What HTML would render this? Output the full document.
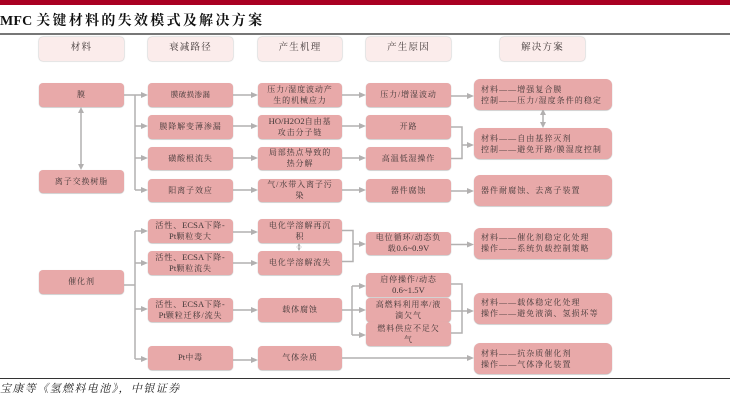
<!DOCTYPE html>
<html lang="zh"><head><meta charset="utf-8"><style>
html,body{margin:0;padding:0;background:#fff;overflow:hidden}
body{position:relative;width:730px;height:404px;overflow:hidden;font-family:"Liberation Serif","Noto Serif CJK SC",serif;color:#3f3636}
svg{position:absolute;left:0;top:0}
.b{position:absolute;box-sizing:border-box;background:#e8a9a9;border-radius:4px;box-shadow:0 .5px 1px #aaa;display:flex;align-items:center;justify-content:center;text-align:center;font-size:8px;line-height:11px;letter-spacing:.9px;white-space:nowrap}
.h{background:#fbeceb;font-size:9.5px;letter-spacing:1.2px;box-shadow:0 0 1.5px #999}
.c1{left:39px;width:85px}.c2{left:148px;width:85px}.c3{left:258px;width:84px}.c4{left:366px;width:85px}
.c5{left:474px;width:138px;height:31px;justify-content:flex-start;text-align:left;padding-left:7px;border-radius:6px;letter-spacing:1.05px}
.l{letter-spacing:.1px;font-size:8.5px}
.clip{position:absolute;left:0;overflow:hidden;white-space:nowrap}
</style></head><body>
<div style="position:absolute;left:0;top:0;width:730px;height:5px;background:#a90022"></div>
<div style="position:absolute;left:0;top:33px;width:730px;height:1.5px;background:#777"></div>
<div style="position:absolute;left:0;top:378px;width:730px;height:1px;background:#333"></div>
<div class="clip" style="top:12px;width:280px;height:20px;font-size:14px;line-height:20px;font-weight:700;letter-spacing:2.3px;color:#111"><span style="letter-spacing:.2px">MFC </span>关键材料的失效模式及解决方案</div>
<div class="clip" style="top:380px;width:200px;height:18px;font-size:11px;line-height:18px;font-style:italic;letter-spacing:1.4px;color:#222">宝康等《氢燃料电池》，中银证券</div>
<svg width="730" height="404" viewBox="0 0 730 404" fill="none" stroke="#b2b0b0" stroke-width="1.500">
<path d="M124 95H141M135 95V190M135 126H141M135 158H141M135 190H141M233 95H251M233 126H251M233 158H251M233 190H251M342 95H359M342 126H359M342 158H359M342 190H359"/>
<path d="M451 96H467M451 127H462V158.500H451M462 145H467M451 191H467"/>
<path d="M81 112V165M543 114V123M124 285H135M135 231V359M135 231H141M135 263H141M135 309H141M135 359H141"/>
<path d="M233 232H251M233 263H251M233 310H251M233 360H251M342 230.500H353V261.500H342M353 244H359M299 244V250"/>
<path d="M342 310H352M352 286V335M352 286H359M352 310H359M352 335H359M451 244.500H467M451 284H462V333H451M451 311H467M342 358H467"/>
<g fill="#b2b0b0" stroke="none">
<path d="M148 95l-7-3v6zM148 126l-7-3v6zM148 158l-7-3v6zM148 190l-7-3v6zM258 95l-7-3v6zM258 126l-7-3v6zM258 158l-7-3v6zM258 190l-7-3v6zM366 95l-7-3v6zM366 126l-7-3v6zM366 158l-7-3v6zM366 190l-7-3v6zM474 96l-7-3v6zM474 145l-7-3v6zM474 191l-7-3v6z"/>
<path d="M148 231l-7-3v6zM148 263l-7-3v6zM148 309l-7-3v6zM148 359l-7-3v6zM258 232l-7-3v6zM258 263l-7-3v6zM258 310l-7-3v6zM258 360l-7-3v6zM366 244l-7-3v6zM366 286l-7-3v6zM366 310l-7-3v6zM366 335l-7-3v6zM474 244.500l-7-3v6zM474 311l-7-3v6zM474 358l-7-3v6z"/>
<path d="M81 107l-3 6h6zM81 170l-3-6h6zM543 109l-3 6h6zM543 128l-3-6h6zM299 243l-2.500 5h5zM299 251l-2.500-5h5z"/>
</g>
</svg>

<div class="b h c1" style="top:37px;height:23.500px">材料</div>
<div class="b h c2" style="top:37px;height:23.500px">衰减路径</div>
<div class="b h c3" style="top:37px;height:23.500px">产生机理</div>
<div class="b h c4" style="top:37px;height:23.500px">产生原因</div>
<div class="b h" style="left:500px;width:85px;top:37px;height:23.500px">解决方案</div>

<div class="b c1" style="top:83px;height:23.500px">膜</div>
<div class="b c1" style="top:169.500px;height:23.500px">离子交换树脂</div>
<div class="b c1" style="top:270px;height:23.500px">催化剂</div>

<div class="b c2" style="top:83px;height:23.500px;letter-spacing:.4px;font-size:7.500px">膜破损渗漏</div>
<div class="b c2" style="top:115px;height:23.500px">膜降解变薄渗漏</div>
<div class="b c2" style="top:146.500px;height:23.500px">磺酸根流失</div>
<div class="b c2" style="top:178.500px;height:23.500px">阳离子效应</div>
<div class="b c2" style="top:219px;height:24px"><span>活性、<span class="l">ECSA</span>下降-<br><span class="l">Pt</span>颗粒变大</span></div>
<div class="b c2" style="top:251px;height:23.500px"><span>活性、<span class="l">ECSA</span>下降-<br><span class="l">Pt</span>颗粒流失</span></div>
<div class="b c2" style="top:298px;height:23.500px"><span>活性、<span class="l">ECSA</span>下降-<br><span class="l">Pt</span>颗粒迁移/流失</span></div>
<div class="b c2" style="top:346px;height:23.500px"><span><span class="l">Pt</span>中毒</span></div>

<div class="b c3" style="top:83px;height:23.500px">压力/湿度波动产<br>生的机械应力</div>
<div class="b c3" style="top:115px;height:23.500px"><span><span class="l">HO/H2O2</span>自由基<br>攻击分子链</span></div>
<div class="b c3" style="top:146.500px;height:23.500px">局部热点导致的<br>热分解</div>
<div class="b c3" style="top:178.500px;height:23.500px">气/水带入离子污<br>染</div>
<div class="b c3" style="top:219px;height:24px">电化学溶解再沉<br>积</div>
<div class="b c3" style="top:251px;height:23.500px">电化学溶解流失</div>
<div class="b c3" style="top:298px;height:23.500px">载体腐蚀</div>
<div class="b c3" style="top:346px;height:23.500px">气体杂质</div>

<div class="b c4" style="top:83px;height:23.500px">压力/增湿波动</div>
<div class="b c4" style="top:115px;height:23.500px">开路</div>
<div class="b c4" style="top:146.500px;height:23.500px">高温低湿操作</div>
<div class="b c4" style="top:178.500px;height:23.500px">器件腐蚀</div>
<div class="b c4" style="top:231.500px;height:23.500px"><span>电位循环/动态负<br>载<span class="l">0.6~0.9V</span></span></div>
<div class="b c4" style="top:273px;height:24px"><span>启停操作/动态<br><span class="l">0.6~1.5V</span></span></div>
<div class="b c4" style="top:298px;height:23.500px">高燃料利用率/液<br>滴欠气</div>
<div class="b c4" style="top:322px;height:23.500px">燃料供应不足欠<br>气</div>

<div class="b c5" style="top:79px"><span>材料——增强复合膜<br>控制——压力/湿度条件的稳定</span></div>
<div class="b c5" style="top:128px"><span>材料——自由基猝灭剂<br>控制——避免开路/膜湿度控制</span></div>
<div class="b c5" style="top:175px">器件耐腐蚀、去离子装置</div>
<div class="b c5" style="top:227.500px"><span>材料——催化剂稳定化处理<br>操作——系统负载控制策略</span></div>
<div class="b c5" style="top:292.500px"><span>材料——载体稳定化处理<br>操作——避免液滴、氢损坏等</span></div>
<div class="b c5" style="top:343px"><span>材料——抗杂质催化剂<br>操作——气体净化装置</span></div>
</body></html>
